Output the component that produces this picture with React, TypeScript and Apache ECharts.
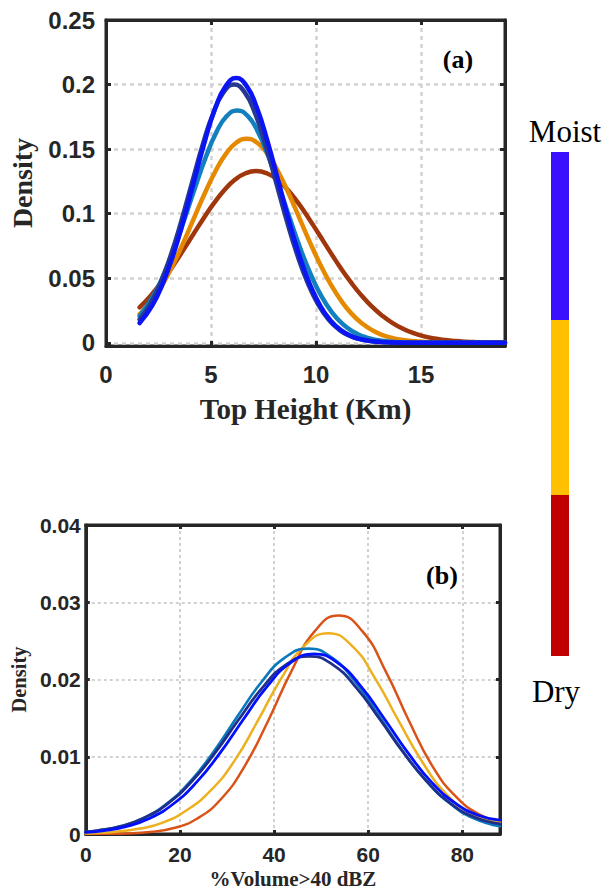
import React, { useEffect, useRef } from "react";
import * as echarts from "echarts";

// ---------- Panel (a): Top Height (Km) — x positions and densities per curve ----------
const xBrownA = [1.6, 2.15, 2.65, 3.15, 3.65, 4.15, 4.65, 5.15, 5.65, 6.15, 6.65, 7.15, 7.65, 8.15, 8.65, 9.15, 9.65, 10.15, 10.65, 11.15, 11.65, 12.15, 12.65, 13.15, 13.65, 14.15, 14.65, 15.15, 15.65, 16.15, 16.65, 17.15, 17.65, 18.15, 18.65, 19];
const yBrownA = [0.0274, 0.0369, 0.0471, 0.0585, 0.071, 0.0838, 0.0965, 0.1083, 0.1185, 0.1264, 0.1313, 0.133, 0.1313, 0.1264, 0.1185, 0.1083, 0.0965, 0.0838, 0.071, 0.0585, 0.0471, 0.0369, 0.0282, 0.021, 0.0152, 0.0108, 0.0074, 0.005, 0.0033, 0.0021, 0.0013, 0.0008, 0.0005, 0.0003, 0.0002, 0.0001];
const xOrangeA = [1.6, 2.2, 2.7, 3.2, 3.7, 4.2, 4.7, 5.2, 5.7, 6.2, 6.7, 7.2, 7.7, 8.2, 8.7, 9.2, 9.7, 10.2, 10.7, 11.2, 11.7, 12.2, 12.7, 13.2, 13.7, 14.2, 14.7, 15.2, 15.7, 16.2, 19];
const yOrangeA = [0.0222, 0.0325, 0.0453, 0.0607, 0.0782, 0.097, 0.1156, 0.1325, 0.1461, 0.1549, 0.158, 0.1549, 0.1461, 0.1325, 0.1156, 0.097, 0.0782, 0.0607, 0.0453, 0.0325, 0.0224, 0.0149, 0.0095, 0.0058, 0.0034, 0.002, 0.0011, 0.0006, 0.0003, 0.0001, 0];
const xLightBlueA = [1.6, 2.25, 2.75, 3.25, 3.75, 4.25, 4.75, 5.25, 5.75, 6.25, 6.75, 7.25, 7.75, 8.25, 8.75, 9.25, 9.75, 10.25, 10.75, 11.25, 11.75, 12.25, 12.75, 13.25, 13.75, 14.25, 14.75, 19];
const yLightBlueA = [0.0207, 0.0363, 0.0529, 0.0732, 0.0964, 0.1207, 0.1437, 0.1629, 0.1756, 0.18, 0.1756, 0.1629, 0.1437, 0.1207, 0.0964, 0.0732, 0.0529, 0.0363, 0.0238, 0.0148, 0.0087, 0.0049, 0.0026, 0.0013, 0.0006, 0.0003, 0.0001, 0];
const xNavyA = [1.6, 2.1, 2.6, 3.1, 3.6, 4.1, 4.6, 5.1, 5.6, 6.1, 6.6, 7.1, 7.6, 8.1, 8.6, 9.1, 9.6, 10.1, 10.6, 11.1, 11.6, 12.1, 12.6, 13.1, 13.6, 14.1, 19];
const yNavyA = [0.018, 0.0298, 0.0465, 0.0685, 0.095, 0.1242, 0.153, 0.1776, 0.1941, 0.2, 0.1941, 0.1776, 0.153, 0.1242, 0.095, 0.0685, 0.0465, 0.0298, 0.018, 0.0102, 0.0055, 0.0028, 0.0013, 0.0006, 0.0002, 0.0001, 0];
const xBlueA = [1.6, 2.2, 2.7, 3.2, 3.7, 4.2, 4.7, 5.2, 5.7, 6.2, 6.7, 7.2, 7.7, 8.2, 8.7, 9.2, 9.7, 10.2, 10.7, 11.2, 11.7, 12.2, 12.7, 13.2, 13.7, 14.2, 19];
const yBlueA = [0.0153, 0.0288, 0.0457, 0.068, 0.0953, 0.1256, 0.1556, 0.1814, 0.1988, 0.205, 0.1988, 0.1814, 0.1556, 0.1256, 0.0953, 0.068, 0.0457, 0.0288, 0.0171, 0.0096, 0.005, 0.0025, 0.0012, 0.0005, 0.0002, 0.0001, 0];
const yTicksA = [0, 0.05, 0.1, 0.15, 0.2, 0.25];

// ---------- Panel (b): %Volume>40 dBZ — x positions and densities per curve ----------
const xRedB = [0, 3.7, 8.7, 13.7, 18.7, 23.7, 28.7, 33.7, 38.7, 43.7, 48.7, 53.7, 58.7, 63.7, 68.7, 73.7, 78.7, 83.7, 88];
const yRedB = [0, 0.00002, 0.00007, 0.00026, 0.00077, 0.00201, 0.0045, 0.00873, 0.0146, 0.02109, 0.02629, 0.0283, 0.02629, 0.02109, 0.0146, 0.00873, 0.0048, 0.0025, 0.0016];
const xYellowB = [0, 1.5, 6.5, 11.5, 16.5, 21.5, 26.5, 31.5, 36.5, 41.5, 46.5, 51.5, 56.5, 61.5, 66.5, 71.5, 76.5, 81.5, 88];
const yYellowB = [0.00005, 0.0001, 0.0003, 0.0007, 0.0015, 0.0031, 0.0056, 0.0094, 0.0146, 0.02012, 0.02439, 0.026, 0.02439, 0.02012, 0.0146, 0.00932, 0.00524, 0.0028, 0.0015];
const xLightBlueB = [0, 2.3, 7.3, 12.3, 17.3, 22.3, 27.3, 32.3, 37.3, 42.3, 47.3, 52.3, 57.3, 62.3, 67.3, 72.3, 77.3, 82.3, 88];
const yLightBlueB = [0.00027, 0.00042, 0.00098, 0.00207, 0.00397, 0.00688, 0.01078, 0.0153, 0.01965, 0.02283, 0.024, 0.02283, 0.01965, 0.0153, 0.01078, 0.00688, 0.00397, 0.00207, 0.001];
const xNavyB = [0, 2.5, 7.5, 12.5, 17.5, 22.5, 27.5, 32.5, 37.5, 42.5, 47.5, 52.5, 57.5, 62.5, 67.5, 72.5, 77.5, 82.5, 88];
const yNavyB = [0.00028, 0.00044, 0.00101, 0.0021, 0.00397, 0.00679, 0.01053, 0.01482, 0.01892, 0.0219, 0.023, 0.0219, 0.01892, 0.01482, 0.01053, 0.00679, 0.00397, 0.0022, 0.0013];
const xBlueB = [0, 3.5, 8.5, 13.5, 18.5, 23.5, 28.5, 33.5, 38.5, 43.5, 48.5, 53.5, 58.5, 63.5, 68.5, 73.5, 78.5, 83.5, 88];
const yBlueB = [0.0002, 0.00041, 0.00095, 0.00201, 0.00385, 0.00668, 0.01047, 0.01486, 0.01908, 0.02216, 0.0233, 0.02216, 0.01908, 0.01486, 0.01047, 0.00668, 0.004, 0.0024, 0.0018];

// ---------- Colour bar ----------
const barLabels = ["Moist", "Dry"];
const barColors = ["#3a10ff", "#ffc000", "#c00000"];

const FRAME = "#262626";
const GRIDC = "#d2d2d2";
const SANS = "'Liberation Sans', Arial, Helvetica, sans-serif";
const SERIF = "'Liberation Serif', 'Times New Roman', serif";

function mkSeries(xs: number[], ys: number[], color: string, width: number, xi: number, yi: number, name: string) {
  return {
    name,
    type: "line",
    xAxisIndex: xi,
    yAxisIndex: yi,
    data: xs.map((x, i) => [x, ys[i]]),
    showSymbol: false,
    symbol: "none",
    smooth: 0.5,
    clip: true,
    lineStyle: { color, width, cap: "round", join: "round" },
    emphasis: { disabled: true },
  };
}

export default function App() {
  const ref = useRef<HTMLDivElement>(null);
  useEffect(() => {
    if (!ref.current) return;
    const chart = echarts.init(ref.current, null, { renderer: "svg" });

    const axisLineStyle = { show: true, onZero: false, lineStyle: { color: FRAME, width: 3 } };
    const tick = { show: true, inside: true, length: 5, lineStyle: { color: FRAME, width: 3 } };

    const option: any = {
      animation: false,
      backgroundColor: "#ffffff",
      grid: [
        { left: 103, top: 20, width: 402, height: 326, show: true, borderColor: FRAME, borderWidth: 3, backgroundColor: "transparent" },
        { left: 82, top: 525, width: 418, height: 309, show: true, borderColor: FRAME, borderWidth: 3, backgroundColor: "transparent" },
      ],
      xAxis: [
        {
          type: "value", gridIndex: 0, min: 0, max: 19, interval: 5,
          axisLine: axisLineStyle, axisTick: tick,
          axisLabel: { color: FRAME, fontSize: 24, fontWeight: "bold", fontFamily: SANS, margin: 16, showMaxLabel: false },
          splitLine: { show: true, lineStyle: { color: GRIDC, width: 2.5, type: [4, 4] } },
          name: "Top Height (Km)", nameLocation: "middle", nameGap: 48,
          nameTextStyle: { fontFamily: SERIF, fontWeight: "bold", fontSize: 29, color: FRAME },
        },
        {
          type: "value", gridIndex: 0, position: "top", min: 0, max: 19, interval: 5,
          axisLine: axisLineStyle, axisTick: tick, axisLabel: { show: false }, splitLine: { show: false },
        },
        {
          type: "value", gridIndex: 1, min: 0, max: 88, interval: 20,
          axisLine: axisLineStyle, axisTick: { ...tick, length: 4 },
          axisLabel: { color: FRAME, fontSize: 21, fontWeight: "bold", fontFamily: SANS, margin: 10, showMaxLabel: false },
          splitLine: { show: true, lineStyle: { color: GRIDC, width: 2, type: [3, 3] } },
          name: "%Volume>40 dBZ", nameLocation: "middle", nameGap: 34,
          nameTextStyle: { fontFamily: SERIF, fontWeight: "bold", fontSize: 21, color: FRAME },
        },
        {
          type: "value", gridIndex: 1, position: "top", min: 0, max: 88, interval: 20,
          axisLine: axisLineStyle, axisTick: { ...tick, length: 4 }, axisLabel: { show: false }, splitLine: { show: false },
        },
      ],
      yAxis: [
        {
          type: "value", gridIndex: 0, min: -0.0025, max: 0.25,
          axisLine: axisLineStyle,
          axisTick: { ...tick, customValues: yTicksA },
          axisLabel: { color: FRAME, fontSize: 24, fontWeight: "bold", fontFamily: SANS, margin: 11, customValues: yTicksA },
          splitLine: { show: true, lineStyle: { color: GRIDC, width: 2.5, type: [4, 4] } },
          name: "Density", nameLocation: "middle", nameGap: 70,
          nameTextStyle: { fontFamily: SERIF, fontWeight: "bold", fontSize: 28, color: FRAME },
        },
        {
          type: "value", gridIndex: 0, position: "right", min: -0.0025, max: 0.25,
          axisLine: axisLineStyle, axisTick: { ...tick, customValues: yTicksA },
          axisLabel: { show: false, customValues: yTicksA }, splitLine: { show: false },
        },
        {
          type: "value", gridIndex: 1, min: 0, max: 0.04, interval: 0.01,
          axisLine: axisLineStyle, axisTick: { ...tick, length: 4 },
          axisLabel: { color: FRAME, fontSize: 21, fontWeight: "bold", fontFamily: SANS, margin: 5 },
          splitLine: { show: true, lineStyle: { color: GRIDC, width: 2, type: [3, 3] } },
          name: "Density", nameLocation: "middle", nameGap: 54,
          nameTextStyle: { fontFamily: SERIF, fontWeight: "bold", fontSize: 20.5, color: FRAME },
        },
        {
          type: "value", gridIndex: 1, position: "right", min: 0, max: 0.04, interval: 0.01,
          axisLine: axisLineStyle, axisTick: { ...tick, length: 4 }, axisLabel: { show: false }, splitLine: { show: false },
        },
      ],
      series: [
        mkSeries(xBrownA, yBrownA, "#a0360c", 4.5, 0, 0, "a1"),
        mkSeries(xOrangeA, yOrangeA, "#e58a00", 4.5, 0, 0, "a2"),
        mkSeries(xLightBlueA, yLightBlueA, "#127fbe", 4.5, 0, 0, "a3"),
        mkSeries(xNavyA, yNavyA, "#26388f", 4.5, 0, 0, "a4"),
        mkSeries(xBlueA, yBlueA, "#0a14f5", 4.5, 0, 0, "a5"),
        mkSeries(xRedB, yRedB, "#d95319", 2.5, 2, 2, "b1"),
        mkSeries(xYellowB, yYellowB, "#edb120", 2.5, 2, 2, "b2"),
        mkSeries(xLightBlueB, yLightBlueB, "#0a78bd", 2.6, 2, 2, "b3"),
        mkSeries(xNavyB, yNavyB, "#1f2f8a", 2.8, 2, 2, "b4"),
        mkSeries(xBlueB, yBlueB, "#0010ff", 2.8, 2, 2, "b5"),
      ],
      graphic: [
        { type: "text", x: 458, y: 59, silent: true, style: { text: "(a)", fill: "#000", font: `bold 26px ${SERIF}`, align: "center", verticalAlign: "middle" } },
        { type: "text", x: 442, y: 575, silent: true, style: { text: "(b)", fill: "#000", font: `bold 26px ${SERIF}`, align: "center", verticalAlign: "middle" } },
        { type: "rect", silent: true, shape: { x: 551, y: 152, width: 18, height: 168 }, style: { fill: barColors[0] } },
        { type: "rect", silent: true, shape: { x: 551, y: 320, width: 18, height: 175 }, style: { fill: barColors[1] } },
        { type: "rect", silent: true, shape: { x: 551, y: 495, width: 18, height: 161 }, style: { fill: barColors[2] } },
        { type: "text", x: 565, y: 131, silent: true, style: { text: barLabels[0], fill: "#000", font: `31px ${SERIF}`, align: "center", verticalAlign: "middle" } },
        { type: "text", x: 556, y: 691, silent: true, style: { text: barLabels[1], fill: "#000", font: `31px ${SERIF}`, align: "center", verticalAlign: "middle" } },
      ],
    };
    chart.setOption(option);
    return () => chart.dispose();
  }, []);
  return <div ref={ref} style={{ position: "absolute", left: 0, top: 0, width: 603, height: 890, background: "#fff" }} />;
}
